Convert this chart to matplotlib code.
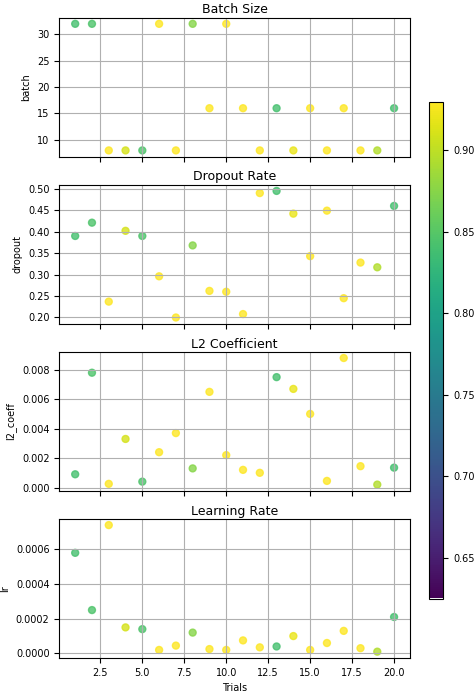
import matplotlib
matplotlib.use("Agg")
import matplotlib.pyplot as plt
import numpy as np

trials = list(range(1, 21))
batch = [32, 32, 8, 8, 8, 32, 8, 32, 16, 32, 16, 8, 16, 8, 16, 8, 16, 8, 8, 16]
dropout = [0.39, 0.421, 0.237, 0.402, 0.39, 0.296, 0.2, 0.368, 0.262, 0.26,
           0.208, 0.49, 0.495, 0.442, 0.343, 0.449, 0.245, 0.328, 0.317, 0.46]
l2 = [0.0009, 0.0078, 0.00025, 0.0033, 0.0004, 0.0024, 0.0037, 0.0013, 0.0065, 0.0022,
      0.0012, 0.001, 0.0075, 0.0067, 0.005, 0.00045, 0.0088, 0.00145, 0.0002, 0.00135]
lr = [0.00058, 0.00025, 0.00074, 0.00015, 0.00014, 0.00002, 0.000045, 0.00012, 0.000025, 0.00002,
      0.000075, 0.000035, 0.00004, 0.0001, 0.00002, 0.00006, 0.00013, 0.00003, 0.00001, 0.00021]
score = [0.84, 0.845, 0.93, 0.91, 0.845, 0.93, 0.93, 0.875, 0.93, 0.93,
         0.93, 0.93, 0.84, 0.92, 0.93, 0.93, 0.93, 0.93, 0.895, 0.84]

fig, axes = plt.subplots(4, 1, figsize=(4.74, 7), dpi=100, sharex=True)
fig.subplots_adjust(left=0.125, right=0.865, top=0.975, bottom=0.06, hspace=0.2)
series = [("Batch Size", "batch", batch), ("Dropout Rate", "dropout", dropout),
          ("L2 Coefficient", "l2_coeff", l2), ("Learning Rate", "lr", lr)]
for ax, (title, lab, vals) in zip(axes, series):
    sc = ax.scatter(trials, vals, c=score, cmap="viridis", vmin=0.625, vmax=0.93, alpha=0.8, s=25)
    ax.set_title(title, fontsize=9, pad=3)
    ax.set_ylabel(lab, fontsize=7)
    ax.grid(True)
    ax.tick_params(labelsize=7)
axes[-1].set_xlabel("Trials", fontsize=7)
axes[-1].set_xticks([2.5, 5, 7.5, 10, 12.5, 15, 17.5, 20])
cax = fig.add_axes([0.905, 0.145, 0.03, 0.71])
cb = fig.colorbar(sc, cax=cax)
cb.solids.set_alpha(1)
cb.ax.tick_params(labelsize=7)
fig.savefig("out.png")
